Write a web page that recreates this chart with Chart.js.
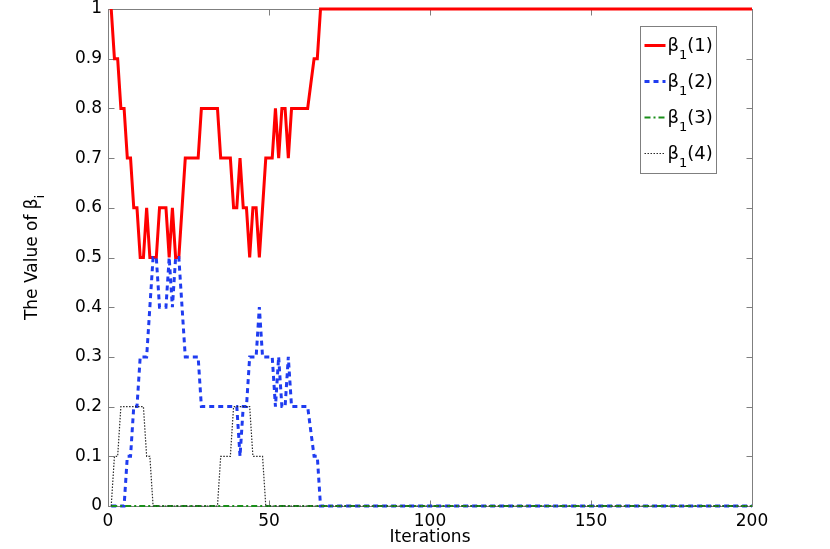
<!DOCTYPE html>
<html>
<head>
<meta charset="utf-8">
<script src="https://cdn.jsdelivr.net/npm/chart.js@4.4.0/dist/chart.umd.min.js"></script>
<style>
html, body { margin: 0; padding: 0; background: #fff; }
#wrap { width: 830px; height: 549px; }
</style>
</head>
<body>
<div id="wrap"><canvas id="betaChart" width="830" height="549"></canvas></div>
<script>
// ---- Data (after iteration 66 every series stays flat up to 200) ----
const iterations = [
  1, 2, 3, 4, 5, 6, 7, 8, 9, 10, 11, 12, 13, 14, 15, 16, 17, 18, 19, 20,
  21, 22, 23, 24, 25, 26, 27, 28, 29, 30, 31, 32, 33, 34, 35, 36, 37, 38, 39, 40,
  41, 42, 43, 44, 45, 46, 47, 48, 49, 50, 51, 52, 53, 54, 55, 56, 57, 58, 59, 60,
  61, 62, 63, 64, 65, 66, 200
];
const beta1_1 = [
  1.0, 0.9, 0.9, 0.8, 0.8, 0.7, 0.7, 0.6, 0.6, 0.5, 0.5, 0.6, 0.5, 0.5, 0.5, 0.6, 0.6, 0.6, 0.5, 0.6,
  0.5, 0.5, 0.6, 0.7, 0.7, 0.7, 0.7, 0.7, 0.8, 0.8, 0.8, 0.8, 0.8, 0.8, 0.7, 0.7, 0.7, 0.7, 0.6, 0.6,
  0.7, 0.6, 0.6, 0.5, 0.6, 0.6, 0.5, 0.6, 0.7, 0.7, 0.7, 0.8, 0.7, 0.8, 0.8, 0.7, 0.8, 0.8, 0.8, 0.8,
  0.8, 0.8, 0.85, 0.9, 0.9, 1.0, 1.0
];
const beta1_2 = [
  0, 0, 0, 0, 0, 0.1, 0.1, 0.2, 0.2, 0.3, 0.3, 0.3, 0.4, 0.5, 0.5, 0.4, 0.4, 0.4, 0.5, 0.4,
  0.5, 0.5, 0.4, 0.3, 0.3, 0.3, 0.3, 0.3, 0.2, 0.2, 0.2, 0.2, 0.2, 0.2, 0.2, 0.2, 0.2, 0.2, 0.2, 0.2,
  0.1, 0.2, 0.2, 0.3, 0.3, 0.3, 0.4, 0.3, 0.3, 0.3, 0.3, 0.2, 0.3, 0.2, 0.2, 0.3, 0.2, 0.2, 0.2, 0.2,
  0.2, 0.2, 0.15, 0.1, 0.1, 0, 0
];
const beta1_3 = [
  0, 0, 0, 0, 0, 0, 0, 0, 0, 0, 0, 0, 0, 0, 0, 0, 0, 0, 0, 0,
  0, 0, 0, 0, 0, 0, 0, 0, 0, 0, 0, 0, 0, 0, 0, 0, 0, 0, 0, 0,
  0, 0, 0, 0, 0, 0, 0, 0, 0, 0, 0, 0, 0, 0, 0, 0, 0, 0, 0, 0,
  0, 0, 0, 0, 0, 0, 0
];
const beta1_4 = [
  0, 0.1, 0.1, 0.2, 0.2, 0.2, 0.2, 0.2, 0.2, 0.2, 0.2, 0.1, 0.1, 0, 0, 0, 0, 0, 0, 0,
  0, 0, 0, 0, 0, 0, 0, 0, 0, 0, 0, 0, 0, 0, 0.1, 0.1, 0.1, 0.1, 0.2, 0.2,
  0.2, 0.2, 0.2, 0.2, 0.1, 0.1, 0.1, 0.1, 0, 0, 0, 0, 0, 0, 0, 0, 0, 0, 0, 0,
  0, 0, 0, 0, 0, 0, 0
];
const seriesTags = ['(1)', '(2)', '(3)', '(4)'];
const xTicks = [0, 50, 100, 150, 200];
const yTicks = [0, 0.1, 0.2, 0.3, 0.4, 0.5, 0.6, 0.7, 0.8, 0.9, 1];
const yTickLabels = ['0', '0.1', '0.2', '0.3', '0.4', '0.5', '0.6', '0.7', '0.8', '0.9', '1'];

const FONT = "'DejaVu Sans', 'Liberation Sans', Arial, sans-serif";
const AXIS_GRAY = '#7f7f7f';

function toPoints(values) {
    return iterations.map((it, i) => ({ x: it, y: values[i] }));
}

// ---- Text with a subscript (β₁, βᵢ) ----
function drawSubText(ctx, x, y, base, sub, tail, size) {
    ctx.font = size + 'px ' + FONT;
    ctx.fillText(base, x, y);
    let w = ctx.measureText(base).width;
    const subSize = Math.round(size * 0.72);
    ctx.font = subSize + 'px ' + FONT;
    ctx.fillText(sub, x + w, y + size * 0.42);
    w += ctx.measureText(sub).width;
    if (tail) {
        ctx.font = size + 'px ' + FONT;
        ctx.fillText(tail, x + w, y);
        w += ctx.measureText(tail).width;
    }
    return w;
}

function subTextWidth(ctx, base, sub, tail, size) {
    ctx.font = size + 'px ' + FONT;
    let w = ctx.measureText(base).width + (tail ? ctx.measureText(tail).width : 0);
    ctx.font = Math.round(size * 0.72) + 'px ' + FONT;
    return w + ctx.measureText(sub).width;
}

// ---- MATLAB-style box, inner ticks, legend, y label ----
const matlabAxes = {
    id: 'matlabAxes',
    beforeDatasetsDraw(chart) {
        const { ctx, chartArea: a, scales: { x, y } } = chart;
        const L = Math.round(a.left) + 0.5, R = Math.round(a.right) + 0.5;
        const T = Math.round(a.top) + 0.5, B = Math.round(a.bottom) + 0.5;
        ctx.save();
        ctx.strokeStyle = AXIS_GRAY;
        ctx.lineWidth = 1;
        ctx.strokeRect(L, T, R - L, B - T);
        ctx.beginPath();
        x.ticks.forEach(t => {
            const px = Math.round(x.getPixelForValue(t.value)) + 0.5;
            ctx.moveTo(px, B); ctx.lineTo(px, B - 6);
            ctx.moveTo(px, T); ctx.lineTo(px, T + 6);
        });
        y.ticks.forEach(t => {
            const py = Math.round(y.getPixelForValue(t.value)) + 0.5;
            ctx.moveTo(L, py); ctx.lineTo(L + 6, py);
            ctx.moveTo(R, py); ctx.lineTo(R - 6, py);
        });
        ctx.stroke();
        ctx.restore();
    },
    afterDraw(chart) {
        const { ctx, chartArea: a } = chart;
        ctx.save();

        // legend
        const bx = Math.round(a.right) - 111.5, by = Math.round(a.top) + 17.5;
        const bw = 76, bh = 147;
        ctx.fillStyle = '#fff';
        ctx.fillRect(bx, by, bw, bh);
        ctx.strokeStyle = AXIS_GRAY;
        ctx.lineWidth = 1;
        ctx.strokeRect(bx, by, bw, bh);
        chart.data.datasets.forEach((ds, i) => {
            const cy = Math.round(by + 18 + i * 36);
            ctx.save();
            ctx.strokeStyle = ds.borderColor;
            ctx.lineWidth = ds.borderWidth;
            ctx.setLineDash(ds.borderDash || []);
            ctx.beginPath();
            ctx.moveTo(bx + 4, cy + 0.5);
            ctx.lineTo(bx + 25, cy + 0.5);
            ctx.stroke();
            ctx.restore();
            ctx.fillStyle = '#000';
            ctx.textBaseline = 'alphabetic';
            ctx.textAlign = 'left';
            drawSubText(ctx, bx + 27, cy + 6, 'β', '1', seriesTags[i], 18);
        });

        // y axis label, rotated
        const size = 17;
        const w = subTextWidth(ctx, 'The Value of β', 'i', '', size);
        ctx.translate(37, (a.top + a.bottom) / 2);
        ctx.rotate(-Math.PI / 2);
        ctx.fillStyle = '#000';
        ctx.textBaseline = 'alphabetic';
        ctx.textAlign = 'left';
        drawSubText(ctx, -w / 2, 0, 'The Value of β', 'i', '', size);
        ctx.restore();
    }
};

// ---- Chart ----
function initBetaChart() {
    const ctx = document.getElementById('betaChart');
    new Chart(ctx, {
        type: 'line',
        data: {
            datasets: [{
                label: 'beta_1(1)',
                data: toPoints(beta1_1),
                borderColor: '#ff0000',
                borderWidth: 3,
                order: 4
            }, {
                label: 'beta_1(2)',
                data: toPoints(beta1_2),
                borderColor: '#1f3cf0',
                borderWidth: 3,
                borderDash: [5, 4],
                order: 3
            }, {
                label: 'beta_1(3)',
                data: toPoints(beta1_3),
                borderColor: '#1a8f1a',
                borderWidth: 2,
                borderDash: [6, 3, 2, 3],
                order: 2
            }, {
                label: 'beta_1(4)',
                data: toPoints(beta1_4),
                borderColor: '#2a2a2a',
                borderWidth: 1.2,
                borderDash: [1.5, 1.5],
                order: 1
            }]
        },
        options: {
            responsive: false,
            animation: false,
            devicePixelRatio: 1,
            layout: { padding: { top: 9, right: 78, left: 0, bottom: 0 } },
            elements: {
                point: { radius: 0, hoverRadius: 0 },
                line: { tension: 0, fill: false, borderCapStyle: 'butt', borderJoinStyle: 'miter' }
            },
            datasets: { line: { clip: false } },
            plugins: {
                legend: { display: false },
                tooltip: { enabled: false }
            },
            scales: {
                x: {
                    type: 'linear',
                    min: 0,
                    max: 200,
                    afterBuildTicks: s => { s.ticks = xTicks.map(v => ({ value: v })); },
                    afterFit: s => { s.height = 43; },
                    grid: { display: false, drawTicks: false },
                    border: { display: false },
                    ticks: {
                        padding: 5,
                        color: '#000',
                        font: { family: FONT, size: 17 },
                        maxRotation: 0,
                        callback: v => String(v)
                    },
                    title: {
                        display: true,
                        text: 'Iterations',
                        color: '#000',
                        font: { family: FONT, size: 17 },
                        padding: { top: 0, bottom: 1 }
                    }
                },
                y: {
                    type: 'linear',
                    min: 0,
                    max: 1,
                    afterBuildTicks: s => { s.ticks = yTicks.map(v => ({ value: v })); },
                    afterFit: s => { s.width = 108; s.paddingTop = 0; s.paddingBottom = 0; },
                    grid: { display: false, drawTicks: false },
                    border: { display: false },
                    ticks: {
                        padding: 6,
                        color: '#000',
                        font: { family: FONT, size: 17 },
                        callback: (v, i) => yTickLabels[i]
                    }
                }
            }
        },
        plugins: [matlabAxes]
    });
}

document.addEventListener('DOMContentLoaded', () => {
    initBetaChart();
});
</script>
</body>
</html>
